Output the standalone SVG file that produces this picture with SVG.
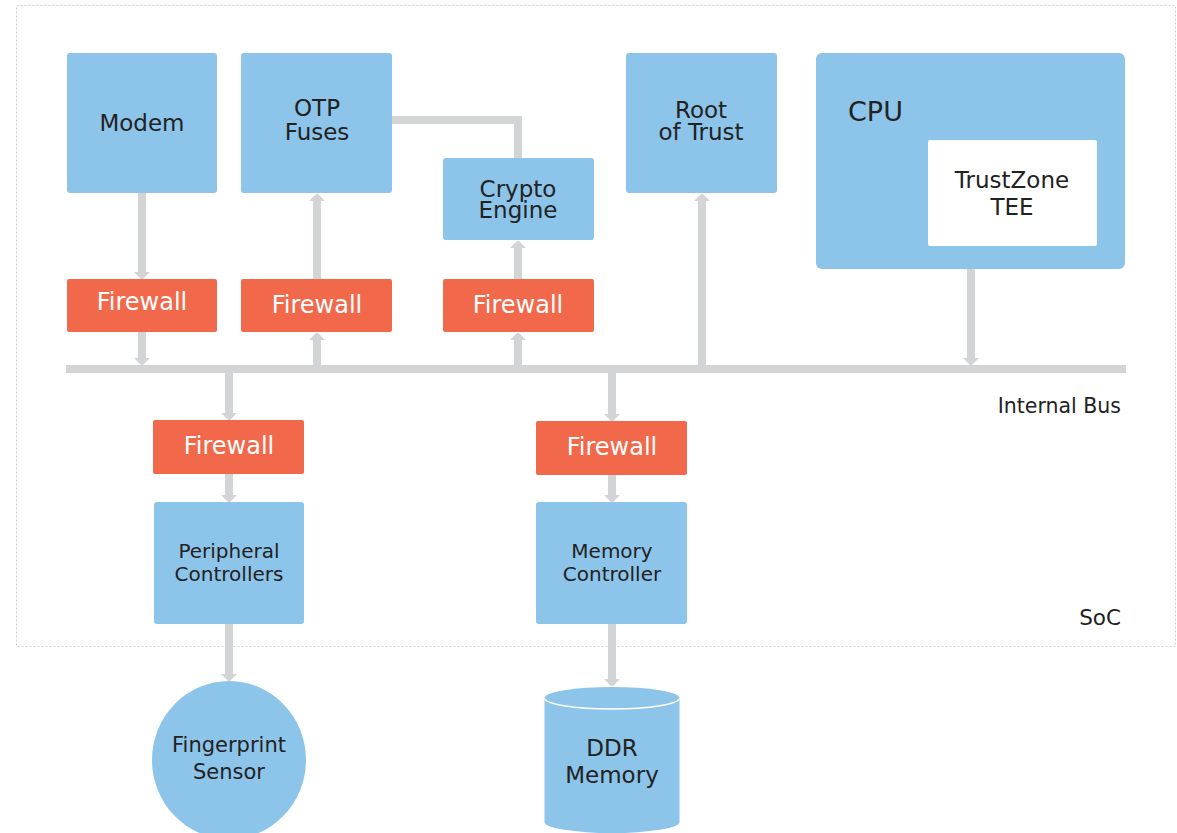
<svg xmlns="http://www.w3.org/2000/svg" width="1177" height="833" viewBox="0 0 1177 833">
  <style>
    .blk { fill: #8dc4ea; }
    .fw { fill: #f2684a; }
    .lbl { font-family: "DejaVu Sans", Verdana, sans-serif; fill: #222222; text-anchor: middle; }
    .fwt { font-family: "DejaVu Sans", Verdana, sans-serif; fill: #ffffff; text-anchor: middle; font-size: 24px; }
    .wire { stroke: #d3d4d6; stroke-width: 8; fill: none; }
    .head { fill: #d3d4d6; }
  </style>
  <defs>
    <!-- arrowheads pointing down / up, tip at origin -->
    <polygon id="hd" points="-8,-7 8,-7 1,0 -1,0"/>
    <polygon id="hu" points="-8,7 8,7 1,0 -1,0"/>
  </defs>

  <rect width="1177" height="833" fill="#ffffff"/>

  <!-- SoC boundary -->
  <g id="soc">
    <rect x="16.5" y="5.5" width="1159" height="641" fill="none" stroke="#cfcfcf" stroke-width="1" stroke-dasharray="2 2"/>
    <text class="lbl" x="1121" y="625" font-size="21.5" style="text-anchor:end">SoC</text>
  </g>

  <!-- connectors -->
  <g id="connectors">
    <!-- internal bus -->
    <line class="wire" x1="66" y1="369" x2="1126" y2="369"/>
    <!-- Modem -> Firewall -> bus -->
    <line class="wire" x1="142" y1="193" x2="142" y2="273"/>
    <use href="#hd" class="head" x="142" y="279"/>
    <line class="wire" x1="142" y1="332" x2="142" y2="359"/>
    <use href="#hd" class="head" x="142" y="365"/>
    <!-- bus -> Firewall -> OTP Fuses -->
    <line class="wire" x1="317" y1="365" x2="317" y2="339"/>
    <use href="#hu" class="head" x="317" y="333"/>
    <line class="wire" x1="317" y1="279" x2="317" y2="200"/>
    <use href="#hu" class="head" x="317" y="194"/>
    <!-- OTP Fuses -> Crypto Engine -->
    <polyline class="wire" points="392,120 518,120 518,158"/>
    <!-- bus -> Firewall -> Crypto Engine -->
    <line class="wire" x1="518" y1="365" x2="518" y2="339"/>
    <use href="#hu" class="head" x="518" y="333"/>
    <line class="wire" x1="518" y1="279" x2="518" y2="247"/>
    <use href="#hu" class="head" x="518" y="241"/>
    <!-- bus -> Root of Trust -->
    <line class="wire" x1="702" y1="365" x2="702" y2="200"/>
    <use href="#hu" class="head" x="702" y="194"/>
    <!-- CPU -> bus -->
    <line class="wire" x1="971" y1="269" x2="971" y2="359"/>
    <use href="#hd" class="head" x="971" y="365"/>
    <!-- bus -> Firewall -> Peripheral Controllers -> Fingerprint Sensor -->
    <line class="wire" x1="229" y1="373" x2="229" y2="414"/>
    <use href="#hd" class="head" x="229" y="420"/>
    <line class="wire" x1="229" y1="474" x2="229" y2="496"/>
    <use href="#hd" class="head" x="229" y="502"/>
    <line class="wire" x1="229" y1="624" x2="229" y2="675"/>
    <use href="#hd" class="head" x="229" y="681"/>
    <!-- bus -> Firewall -> Memory Controller -> DDR Memory -->
    <line class="wire" x1="612" y1="373" x2="612" y2="415"/>
    <use href="#hd" class="head" x="612" y="421"/>
    <line class="wire" x1="612" y1="475" x2="612" y2="496"/>
    <use href="#hd" class="head" x="612" y="502"/>
    <line class="wire" x1="612" y1="624" x2="612" y2="680"/>
    <use href="#hd" class="head" x="612" y="686"/>
  </g>

  <g id="modem">
    <rect class="blk" x="67" y="53" width="150" height="140" rx="3"/>
    <text class="lbl" x="142" y="131" font-size="23">Modem</text>
  </g>
  <g id="otp-fuses">
    <rect class="blk" x="241" y="53" width="151" height="140" rx="3"/>
    <text class="lbl" x="317" y="116" font-size="23">OTP</text>
    <text class="lbl" x="317" y="140" font-size="23">Fuses</text>
  </g>
  <g id="crypto-engine">
    <rect class="blk" x="443" y="158" width="151" height="82" rx="3"/>
    <text class="lbl" x="518" y="197" font-size="23">Crypto</text>
    <text class="lbl" x="518" y="218" font-size="23">Engine</text>
  </g>
  <g id="root-of-trust">
    <rect class="blk" x="626" y="53" width="151" height="140" rx="3"/>
    <text class="lbl" x="701" y="118" font-size="23">Root</text>
    <text class="lbl" x="701" y="140" font-size="23">of Trust</text>
  </g>
  <g id="cpu">
    <rect class="blk" x="816" y="53" width="309" height="216" rx="6"/>
    <text class="lbl" x="848" y="121" font-size="27" style="text-anchor:start">CPU</text>
  </g>
  <g id="trustzone-tee">
    <rect x="928" y="140" width="169" height="106" rx="2" fill="#ffffff"/>
    <text class="lbl" x="1012" y="188" font-size="23">TrustZone</text>
    <text class="lbl" x="1012" y="215" font-size="23">TEE</text>
  </g>

  <g id="firewall-modem">
    <rect class="fw" x="67" y="279" width="150" height="53" rx="2"/>
    <text class="fwt" x="142" y="310">Firewall</text>
  </g>
  <g id="firewall-otp">
    <rect class="fw" x="241" y="279" width="151" height="53" rx="2"/>
    <text class="fwt" x="317" y="313">Firewall</text>
  </g>
  <g id="firewall-crypto">
    <rect class="fw" x="443" y="279" width="151" height="53" rx="2"/>
    <text class="fwt" x="518" y="313">Firewall</text>
  </g>

  <g id="internal-bus-label">
    <text class="lbl" x="1121" y="413" font-size="20.5" style="text-anchor:end">Internal Bus</text>
  </g>

  <g id="firewall-peripheral">
    <rect class="fw" x="153" y="420" width="151" height="54" rx="2"/>
    <text class="fwt" x="229" y="454">Firewall</text>
  </g>
  <g id="firewall-memory">
    <rect class="fw" x="536" y="421" width="151" height="54" rx="2"/>
    <text class="fwt" x="612" y="455">Firewall</text>
  </g>

  <g id="peripheral-controllers">
    <rect class="blk" x="154" y="502" width="150" height="122" rx="3"/>
    <text class="lbl" x="229" y="558" font-size="20">Peripheral</text>
    <text class="lbl" x="229" y="581" font-size="20">Controllers</text>
  </g>
  <g id="memory-controller">
    <rect class="blk" x="536" y="502" width="151" height="122" rx="3"/>
    <text class="lbl" x="612" y="558" font-size="20">Memory</text>
    <text class="lbl" x="612" y="581" font-size="20">Controller</text>
  </g>

  <g id="fingerprint-sensor">
    <ellipse class="blk" cx="229" cy="760" rx="77" ry="79"/>
    <text class="lbl" x="229" y="752" font-size="21">Fingerprint</text>
    <text class="lbl" x="229" y="779" font-size="21">Sensor</text>
  </g>

  <g id="ddr-memory">
    <path class="blk" d="M544.5,698 A67.5,11 0 0 1 679.5,698 L679.5,822 A67.5,11 0 0 1 544.5,822 Z"/>
    <path d="M544.5,698 A67.5,11 0 0 0 679.5,698" fill="none" stroke="#ffffff" stroke-width="1.5"/>
    <text class="lbl" x="612" y="756" font-size="23">DDR</text>
    <text class="lbl" x="612" y="783" font-size="23">Memory</text>
  </g>
</svg>
